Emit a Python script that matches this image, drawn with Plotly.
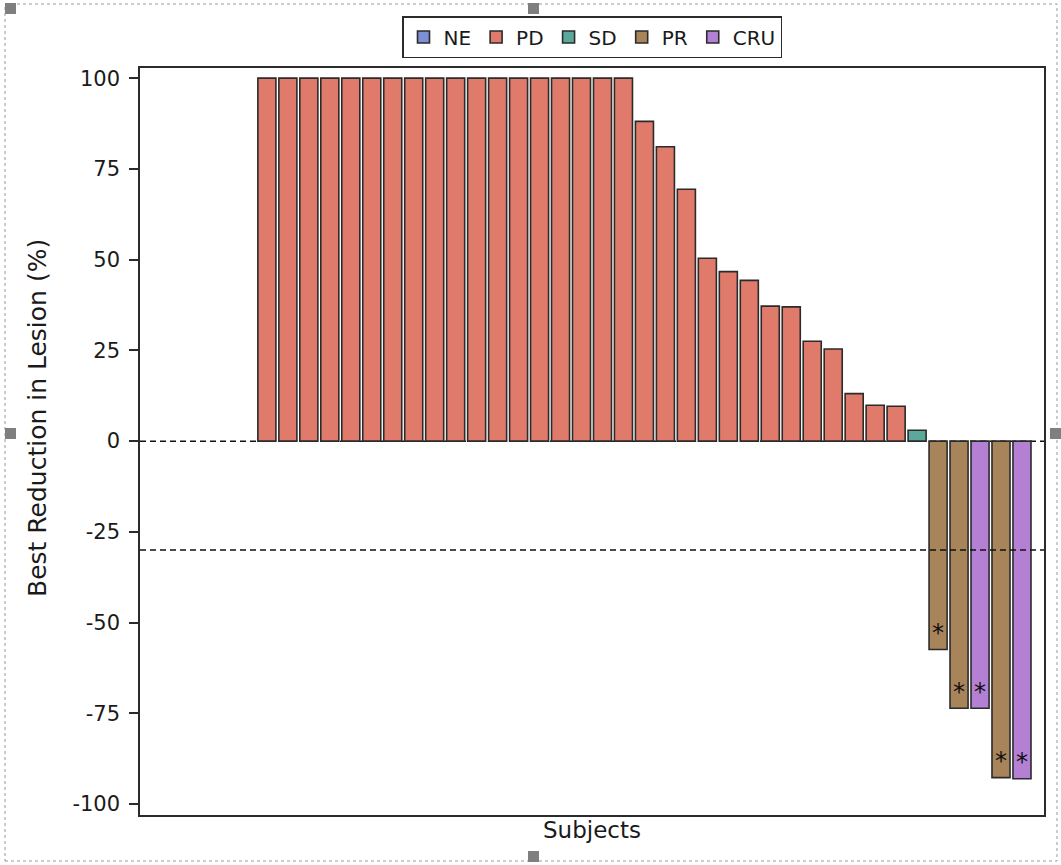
import plotly.graph_objects as go

# Best response per subject (sorted waterfall order)
subjects = list(range(1, 43))
response = (["NE"] * 5 + ["PD"] * 31 + ["SD"] +
            ["PR", "PR", "CRU", "PR", "CRU"])
best_change = ([None] * 5 + [100] * 18 +
               [88.1, 81.1, 69.4, 50.4, 46.7, 44.3, 37.2, 37.0, 27.5, 25.4, 13.1, 9.9, 9.6] +
               [3.0] +
               [-57.4, -73.6, -73.6, -92.7, -93.0])
flag = [""] * 37 + ["*"] * 5

categories = ["NE", "PD", "SD", "PR", "CRU"]
colors = {"NE": "#7d90d3", "PD": "#e07b6b", "SD": "#5ba99b",
          "PR": "#a8845a", "CRU": "#b380d4"}

FONT = "DejaVu Sans"
W, H = 1061, 865
L, R, T, B = 140, 17, 68, 50

fig = go.Figure()
for cat in categories:
    idx = [i for i, r in enumerate(response) if r == cat]
    fig.add_trace(go.Bar(
        x=[subjects[i] for i in idx],
        y=[best_change[i] for i in idx],
        name=cat,
        width=0.86,
        marker=dict(color=colors[cat], line=dict(color="#2b2b2b", width=1.6)),
        text=[flag[i] for i in idx],
        textposition="inside",
        insidetextanchor="end",
        textangle=0,
        textfont=dict(family=FONT, size=27, color="#111"),
        cliponaxis=False,
    ))


def px_x(px):
    return (px - L) / (W - L - R)


def px_y(py):
    return (H - B - py) / (H - T - B)


shapes = [
    # reference lines at 0 and -30 %
    dict(type="line", xref="paper", x0=0, x1=1, yref="y", y0=0, y1=0,
         line=dict(color="#111", width=1.5, dash="6px,4px"), layer="below"),
    dict(type="line", xref="paper", x0=0, x1=1, yref="y", y0=-30, y1=-30,
         line=dict(color="#111", width=1.5, dash="6px,4px"), layer="above"),
    # dotted outer frame
    dict(type="rect", xref="paper", yref="paper",
         x0=px_x(5), x1=px_x(1057), y0=px_y(861), y1=px_y(4),
         line=dict(color="#9a9a9a", width=1, dash="dot"), layer="below"),
]
# grey handle squares on the frame
for cx, cy in [(10, 8), (533, 8), (10, 433), (1055, 433), (533, 856)]:
    shapes.append(dict(type="rect", xref="paper", yref="paper",
                       x0=px_x(cx - 5), x1=px_x(cx + 6),
                       y0=px_y(cy + 6), y1=px_y(cy - 5),
                       fillcolor="#7f7f7f", line=dict(width=0), layer="above"))

fig.update_layout(
    width=W, height=H,
    margin=dict(l=L, r=R, t=T, b=B, autoexpand=False),
    paper_bgcolor="white", plot_bgcolor="white",
    font=dict(family=FONT, size=20, color="#1a1a1a"),
    barmode="overlay",
    showlegend=True,
    legend=dict(orientation="h", x=0.5, xanchor="center", y=px_y(16), yanchor="top",
                bordercolor="#2b2b2b", borderwidth=1.5,
                font=dict(family=FONT, size=20, color="#1a1a1a"),
                tracegroupgap=0),
    shapes=shapes,
    annotations=[dict(text="Best Reduction in Lesion (%)", textangle=-90,
                      xref="paper", yref="paper", x=px_x(37), y=px_y(418),
                      xanchor="center", yanchor="middle", showarrow=False,
                      font=dict(family=FONT, size=25, color="#1a1a1a"))],
)
fig.update_xaxes(range=[-0.05, 43.05], showticklabels=False, ticks="",
                 showgrid=False, zeroline=False,
                 showline=True, mirror=True, linecolor="#2b2b2b", linewidth=1.5,
                 title=dict(text="Subjects", standoff=6,
                            font=dict(family=FONT, size=23)))
fig.update_yaxes(range=[-103, 102.8], tickvals=[-100, -75, -50, -25, 0, 25, 50, 75, 100],
                 ticktext=["-100", "-75", "-50", "-25", "0", "25", "50", "75", "100"],
                 ticks="outside", ticklen=9, tickcolor="#2b2b2b", tickwidth=1.5,
                 ticklabelstandoff=5,
                 tickfont=dict(family=FONT, size=21),
                 showgrid=False, zeroline=False,
                 showline=True, mirror=True, linecolor="#2b2b2b", linewidth=1.5)

fig.write_html("out.html")
